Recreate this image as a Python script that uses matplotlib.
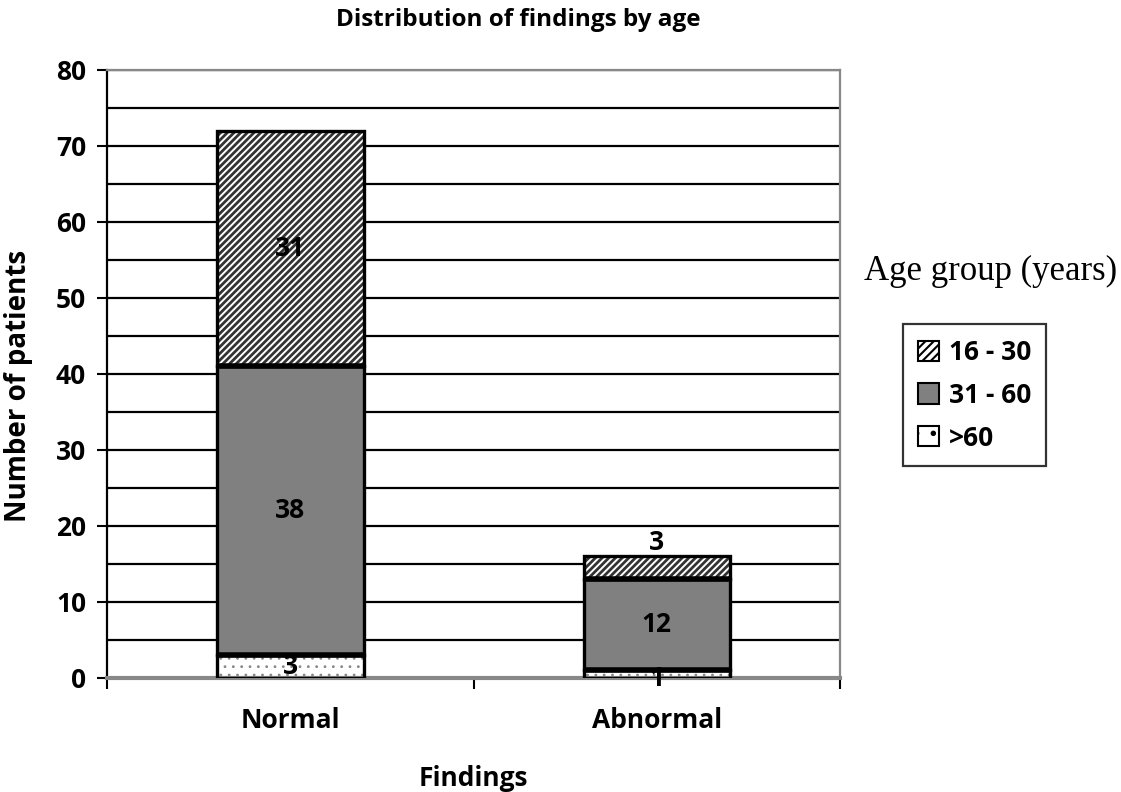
import matplotlib.pyplot as plt
import numpy as np
from matplotlib.patches import Patch

plt.rcParams['font.family'] = ['Open Sans', 'DejaVu Sans']

findings = ['Normal', 'Abnormal']
groups = ['16 - 30', '31 - 60', '>60']
age_16_30 = [31, 3]
age_31_60 = [38, 12]
age_60_up = [3, 1]

fig = plt.figure(figsize=(11.21, 7.92), dpi=100)
ax = fig.add_axes([0.0955, 0.144, 0.654, 0.768])

x = np.array([0.5, 1.5])
w = 0.4

# stack from bottom: >60, 31-60, 16-30
bottoms = [np.zeros(2), np.array(age_60_up), np.array(age_60_up) + np.array(age_31_60)]
vals = [age_60_up, age_31_60, age_16_30]
styles = [
    dict(color='white', hatch='..', edgecolor='#888888', hlw=0.8),
    dict(color='#808080', hatch=None, edgecolor='#808080', hlw=1.0),
    dict(color='white', hatch='/////', edgecolor='#333333', hlw=2.0),
]
for v, b, s in zip(vals, bottoms, styles):
    plt.rcParams['hatch.linewidth'] = s['hlw']
    ax.bar(x, v, w, bottom=b, color=s['color'], hatch=s['hatch'],
           edgecolor=s['edgecolor'], linewidth=0, zorder=2)
    ax.bar(x, v, w, bottom=b, fill=False, edgecolor='black', linewidth=2.4, zorder=3)

# thicker dividers between segments
for b in bottoms[1:]:
    ax.hlines(b, x - w / 2, x + w / 2, color='black', linewidth=4, zorder=3)

# labels
label_pos = [
    (0, age_16_30[0], bottoms[2][0] + age_16_30[0] / 2),
    (0, age_31_60[0], bottoms[1][0] + age_31_60[0] / 2),
    (0, age_60_up[0], age_60_up[0] / 2),
    (1, age_16_30[1], bottoms[2][1] + age_16_30[1] + 1.8),
    (1, age_31_60[1], bottoms[1][1] + age_31_60[1] / 2),
    (1, age_60_up[1], age_60_up[1] / 2 - 0.6),
]
for i, v, yy in label_pos:
    ax.text(x[i], yy, str(v), ha='center', va='center', fontsize=19,
            fontweight='bold', zorder=4)

ax.set_xlim(0, 2)
ax.set_ylim(0, 80)
ax.set_yticks(np.arange(0, 81, 10))
ax.set_yticks(np.arange(5, 80, 10), minor=True)
ax.set_xticks([0, 1, 2])
ax.set_xticklabels([])
ax.set_xticks(x, minor=True)
ax.set_xticklabels(findings, minor=True)
ax.tick_params(axis='x', which='minor', length=0, pad=21, labelsize=19)
ax.tick_params(axis='x', which='major', length=8, width=1.5, color='black')
ax.tick_params(axis='y', which='major', length=7, width=1.5, labelsize=19, pad=8)
ax.tick_params(axis='y', which='minor', length=0)
for lbl in ax.get_xticklabels(minor=True) + ax.get_yticklabels():
    lbl.set_fontweight('bold')

ax.grid(axis='y', which='both', color='black', linewidth=1.6, zorder=0)
ax.set_axisbelow(True)

ax.spines['left'].set_color('black')
ax.spines['left'].set_linewidth(1.6)
ax.spines['top'].set_color('#888888')
ax.spines['top'].set_linewidth(1.6)
ax.spines['right'].set_color('#888888')
ax.spines['right'].set_linewidth(1.6)
ax.spines['bottom'].set_color('#888888')
ax.spines['bottom'].set_linewidth(3)

ax.set_xlabel('Findings', fontsize=19, fontweight='bold', labelpad=22)
ax.set_ylabel('Number of patients', fontsize=20, fontweight='bold')
ax.yaxis.set_label_coords(-0.101, 0.48)
fig.text(0.462, 0.975, 'Distribution of findings by age', ha='center', va='center',
         fontsize=17.5, fontweight='bold')

# legend
plt.rcParams['hatch.linewidth'] = 1.5
handles = [
    Patch(facecolor='white', hatch='////', edgecolor='black', linewidth=1.5),
    Patch(facecolor='#808080', edgecolor='black', linewidth=1.5),
    Patch(facecolor='white', hatch='.', edgecolor='black', linewidth=1.5),
]
leg = fig.legend(handles, groups, loc='center', bbox_to_anchor=(0.8695, 0.501),
                 frameon=True, fancybox=False, edgecolor='black',
                 prop=dict(size=19, weight='bold'), handlelength=0.8,
                 handleheight=0.8, handletextpad=0.4, labelspacing=0.6,
                 borderpad=0.55)
leg.get_frame().set_linewidth(1.6)
fig.text(0.884, 0.657, 'Age group (years)', ha='center', va='center',
         fontsize=25, family='Liberation Serif')

fig.savefig('out.png', dpi=100)
